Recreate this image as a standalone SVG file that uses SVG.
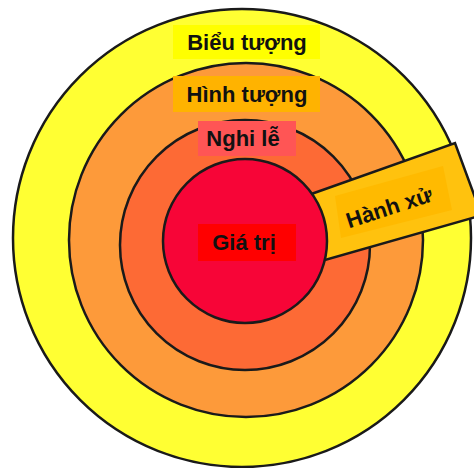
<svg xmlns="http://www.w3.org/2000/svg" width="474" height="468" viewBox="0 0 474 468">
<style>
.ring{stroke:#1a1a1a;stroke-width:2.5}
.lbl{font-family:"Liberation Sans",Arial,sans-serif;font-weight:bold;font-size:22px;fill:#111;text-anchor:middle}
</style>
<rect width="474" height="468" fill="#ffffff"/>
<g id="bieu-tuong">
<circle class="ring" cx="242" cy="238" r="229" fill="#ffff33"/>
</g>
<g id="hinh-tuong">
<circle class="ring" cx="246" cy="240" r="177" fill="#fd9a3a"/>
</g>
<g id="nghi-le">
<circle class="ring" cx="245" cy="245" r="125" fill="#fd6a35"/>
</g>
<g id="hanh-xu">
<polygon class="ring" points="300,198 455,143 476,200 476,217 318,262" fill="#ffc20e"/>
<polygon points="335,196 443,166 452,210 341,238" fill="#ffba00"/>
<text class="lbl" x="389" y="215" transform="rotate(-18 389 207)">Hành xử</text>
</g>
<g id="gia-tri">
<circle class="ring" cx="245" cy="241" r="82" fill="#f70537"/>
<rect x="198" y="224" width="98" height="37" fill="#ff0000"/>
<text class="lbl" x="244" y="250">Giá trị</text>
</g>
<g id="labels">
<rect x="173" y="25" width="147" height="34" fill="#ffff00"/>
<text class="lbl" x="247" y="50">Biểu tượng</text>
<rect x="173" y="76" width="147" height="36" fill="#ffb300"/>
<text class="lbl" x="247" y="102">Hình tượng</text>
<rect x="198" y="121" width="98" height="35" fill="#ff5555"/>
<text class="lbl" x="243" y="146">Nghi lễ</text>
</g>
</svg>
